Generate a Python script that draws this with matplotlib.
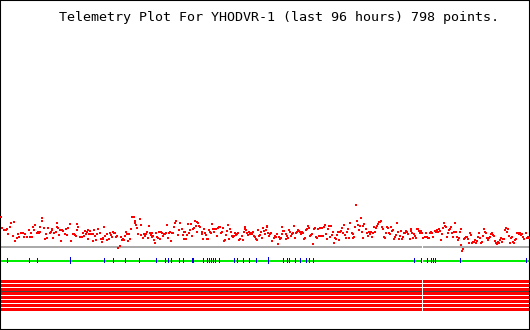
import numpy as np
import matplotlib
matplotlib.use("Agg")
import matplotlib.pyplot as plt

title = "Telemetry Plot For YHODVR-1 (last 96 hours) 798 points."

# time index (0..1590 spans the 96 hours) and telemetry reading
t1 = [3, 7, 12, 17, 20, 24, 30, 34, 39, 43, 46, 50, 55, 58, 62, 66, 68, 72, 76, 82,
      86, 90, 93, 97, 100, 103, 106, 110, 113, 116, 119, 120, 125, 127, 132, 134, 137, 140, 142, 144,
      149, 152, 155, 157, 159, 162, 167, 171, 172, 173, 177, 179, 184, 187, 190, 195, 197, 200, 204, 210,
      214, 218, 221, 224, 227, 230, 232, 234, 240, 245, 248, 252, 256, 258, 260, 263, 265, 268, 271, 274,
      278, 280, 283, 285, 289, 292, 295, 300, 302, 305, 308, 310, 313, 316, 320, 322, 326, 329, 332, 335,
      338, 341, 344, 349, 352, 355, 360, 362, 366, 369, 372, 375, 378, 381, 385, 388, 390, 393, 396, 399,
      401, 404, 406, 409, 412, 414, 419, 422, 424, 428, 432, 435, 438, 441, 444, 447, 450, 452, 455, 457,
      460, 463, 466, 469, 472, 475, 478, 481, 484, 487, 490, 493, 496, 499, 502, 505, 508, 511, 514, 517,
      520, 522, 526, 529, 533, 538]
v1 = [90, 57, 50, 50, 52, 37, 58, 71, 32, 74, 18, 27, 38, 30, 40, 42, 42, 30, 39, 30,
      50, 30, 40, 30, 59, 49, 64, 41, 43, 41, 45, 60, 77, 87, 57, 24, 37, 26, 26, 55,
      42, 43, 49, 54, 26, 42, 43, 59, 70, 57, 36, 49, 18, 49, 48, 37, 52, 36, 55, 68,
      18, 39, 37, 34, 32, 50, 68, 59, 28, 28, 41, 32, 47, 38, 44, 50, 23, 38, 47, 37,
      18, 37, 49, 31, 19, 37, 52, 42, 24, 14, 22, 25, 60, 31, 37, 19, 22, 41, 36, 30,
      44, 40, 42, 28, 31, -4, 2, 29, 19, 24, 20, 33, 45, 37, 16, 37, 24, 52, 89, 90,
      88, 77, 72, 66, 57, 37, 82, 65, 35, 27, 39, 32, 37, 44, 27, 62, 41, 35, 28, 40,
      32, 19, 12, 42, 29, 25, 44, 23, 45, 41, 33, 37, 39, 40, 66, 26, 41, 43, 17, 40,
      41, 60, 70, 78, 36, 51]
t2 = [541, 545, 548, 552, 553, 556, 559, 562, 565, 568, 570, 573, 577, 580, 582, 585, 588, 590, 592, 595,
      597, 600, 605, 607, 610, 613, 615, 617, 621, 624, 628, 631, 634, 637, 640, 643, 646, 649, 651, 655,
      658, 660, 663, 666, 668, 673, 676, 679, 682, 685, 688, 691, 694, 697, 700, 703, 706, 709, 712, 715,
      718, 721, 725, 728, 731, 734, 736, 738, 740, 743, 746, 749, 753, 756, 759, 762, 765, 769, 772, 775,
      778, 781, 784, 787, 789, 792, 795, 798, 800, 802, 805, 808, 811, 814, 817, 821, 824, 827, 830, 833,
      836, 839, 842, 845, 847, 850, 853, 857, 859, 862, 865, 868, 870, 873, 876, 879, 883, 886, 889, 892,
      895, 898, 901, 904, 907, 910, 913, 916, 919, 922, 925, 928, 931, 934, 937, 940, 943, 946, 949, 952,
      955, 958, 961, 964, 967, 970, 973, 976, 979, 982, 985, 988, 991, 994, 997, 1000, 1003, 1006, 1009, 1012,
      1015, 1018, 1021, 1024, 1027, 1030, 1033, 1036, 1039, 1042, 1045, 1048]
v2 = [72, 52, 35, 22, 44, 44, 24, 34, 69, 40, 50, 69, 33, 53, 57, 78, 62, 43, 73, 71,
      62, 60, 43, 37, 24, 53, 42, 35, 22, 24, 50, 43, 40, 69, 52, 44, 54, 54, 33, 57,
      58, 60, 41, 45, 57, 16, 20, 34, 46, 66, 24, 52, 45, 33, 30, 32, 40, 35, 38, 40,
      20, 22, 33, 20, 43, 54, 60, 50, 40, 35, 43, 39, 42, 39, 43, 33, 28, 23, 19, 50,
      31, 36, 44, 27, 55, 47, 37, 50, 63, 58, 40, 32, 39, 42, 18, 26, 33, 28, 39, 9,
      30, 22, 27, 37, 60, 48, 48, 24, 37, 31, 25, 50, 45, 31, 39, 41, 63, 25, 40, 44,
      50, 48, 45, 39, 45, 42, 23, 26, 50, 54, 63, 56, 33, 34, 37, 9, 52, 57, 29, 26,
      53, 33, 56, 33, 55, 32, 60, 64, 37, 24, 52, 63, 30, 63, 34, 45, 12, 27, 24, 36,
      44, 21, 43, 47, 55, 40, 65, 36, 25, 43, 52, 26]
t3 = [1051, 1055, 1058, 1060, 1063, 1065, 1069, 1072, 1075, 1078, 1080, 1083, 1086, 1088, 1090, 1093, 1097, 1100, 1103, 1107,
      1110, 1113, 1116, 1119, 1122, 1125, 1128, 1131, 1134, 1137, 1140, 1143, 1146, 1149, 1152, 1155, 1158, 1161, 1165, 1168,
      1170, 1173, 1176, 1179, 1182, 1185, 1188, 1191, 1194, 1197, 1200, 1203, 1206, 1209, 1212, 1216, 1219, 1222, 1225, 1229,
      1232, 1234, 1237, 1240, 1243, 1246, 1249, 1252, 1255, 1258, 1261, 1264, 1267, 1270, 1274, 1278, 1282, 1285, 1288, 1291,
      1293, 1296, 1300, 1304, 1307, 1310, 1313, 1316, 1319, 1322, 1325, 1328, 1331, 1334, 1337, 1340, 1343, 1346, 1349, 1352,
      1355, 1358, 1361, 1364, 1367, 1370, 1373, 1376, 1379, 1382, 1384, 1387, 1390, 1393, 1396, 1399, 1402, 1405, 1408, 1411,
      1414, 1417, 1420, 1423, 1426, 1429, 1432, 1435, 1438, 1441, 1444, 1447, 1450, 1453, 1456, 1459, 1462, 1465, 1468, 1471,
      1474, 1477, 1480, 1483, 1486, 1489, 1492, 1495, 1498, 1501, 1504, 1507, 1510, 1513, 1516, 1519, 1522, 1525, 1528, 1531,
      1534, 1537, 1540, 1543, 1546, 1549, 1552, 1555, 1558, 1561, 1564, 1567, 1570, 1573, 1577, 1580, 1583, 1586]
v3 = [72, 40, 38, 27, 30, 60, 125, 77, 66, 50, 62, 86, 45, 25, 62, 68, 53, 40, 32, 45,
      37, 45, 30, 42, 60, 45, 57, 62, 68, 73, 75, 78, 60, 52, 30, 27, 40, 58, 55, 40,
      38, 58, 48, 50, 22, 30, 35, 70, 44, 22, 32, 48, 22, 30, 42, 42, 48, 45, 38, 23,
      46, 52, 42, 27, 38, 33, 27, 52, 52, 48, 41, 48, 40, 27, 30, 42, 28, 25, 25, 40,
      43, 42, 28, 48, 45, 50, 44, 53, 46, 20, 37, 55, 72, 62, 60, 30, 40, 51, 54, 60,
      40, 30, 45, 72, 43, 30, 20, 25, 44, 52, 5, -13, -7, 23, 25, 28, 30, 22, 12, 40,
      35, 10, 15, 15, 20, 10, 17, 30, 40, 25, 10, 15, 32, 52, 45, 40, 27, 20, 25, 30,
      38, 42, 35, 32, 18, 10, 8, 15, 12, 20, 25, 15, 22, 23, 50, 55, 45, 52, 32, 12,
      25, 30, 15, 12, 20, 22, 42, 40, 37, 40, 35, 38, 30, 24, 40, 25, 30, 25]

# event marks on the green status channel
events = [21, 87, 111, 210, 312, 339, 375, 417, 468, 495, 504, 513, 537, 549, 576, 579,
          609, 621, 627, 633, 639, 645, 657, 702, 711, 729, 747, 768, 804, 849, 861, 867,
          885, 900, 918, 927, 939, 1242, 1263, 1281, 1293, 1299, 1305, 1380, 1578]
big_events = [210, 804]
gap_at = 1266
n_bits = 8

t = np.array(t1 + t2 + t3)
v = np.array(v1 + v2 + v3)

fig = plt.figure(figsize=(5.3, 3.3), dpi=100)
ax = fig.add_axes([0, 0, 1, 1])
ax.set_xlim(0, 1590)
ax.set_ylim(-250, 740)
ax.set_xticks([])
ax.set_yticks([])
for s in ax.spines.values():
    s.set_linewidth(1.5)
    s.set_color("black")

px = 0.72  # one pixel in points

# baseline
ax.axhline(0, color="#aaaaaa", lw=1.2, zorder=1, antialiased=False)

# green status channel with blue events
ax.axhline(-43, color="#00ee00", lw=1.2, zorder=1, antialiased=False)
ax.vlines(events, -47, -35, color="#0000dd", lw=px, zorder=2, antialiased=False)
ax.vlines(big_events, -50, -32, color="#0000dd", lw=px, zorder=2, antialiased=False)

# red bit channels
for i in range(n_bits):
    ax.axhline(-103 - 12 * i, color="#ff0000", lw=3 * px, zorder=1, antialiased=False)
ax.axhline(-134, color="#444444", lw=px, zorder=2, antialiased=False)

# data gap
ax.vlines([gap_at], -200, 3, color="white", lw=px, zorder=3, antialiased=False)

# telemetry points
ax.plot(t, v, ls="none", marker="s", ms=1.6, mew=0, color="#ff0000",
        zorder=4, antialiased=False)

ax.text(837, 686, title, ha="center", va="center", fontsize=9.6,
        family="DejaVu Sans Mono", color="black")

fig.savefig("out.png", dpi=100)
